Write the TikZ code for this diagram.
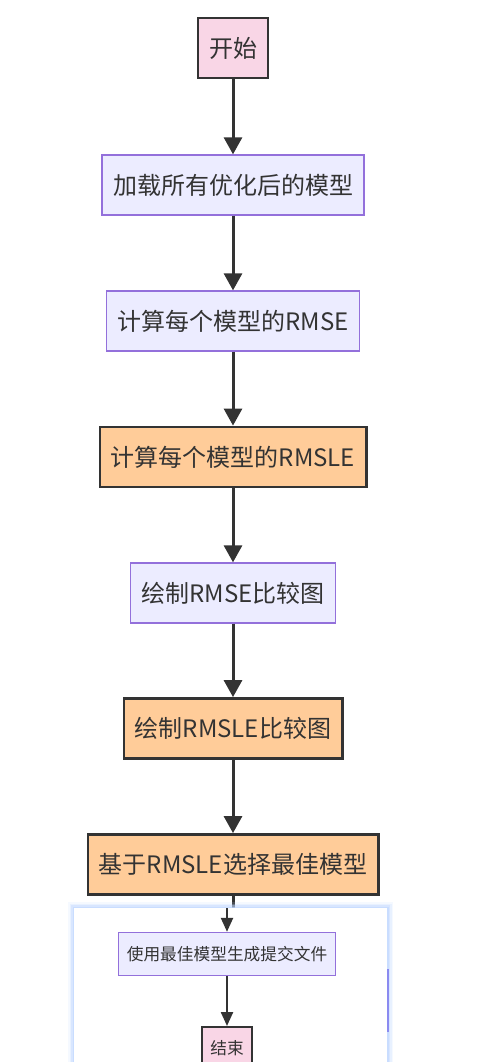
\documentclass[tikz,border=0pt]{standalone}
\usepackage{fontspec}
\setmainfont{Noto Sans CJK SC}
\usetikzlibrary{arrows.meta,positioning}
\definecolor{lav}{HTML}{ECECFF}
\definecolor{lavline}{HTML}{9370DB}
\definecolor{pinkfill}{HTML}{F9D6E6}
\definecolor{orangefill}{HTML}{FFCC99}
\definecolor{ink}{HTML}{333333}
\definecolor{glow}{HTML}{BFD7FF}
\definecolor{edgeblue}{HTML}{8A8AF0}
\tikzset{
  paso/.style={rectangle, draw=lavline, fill=lav, line width=1.3pt, text=ink,
               font=\fontsize{24}{28}\selectfont, minimum height=60pt, inner xsep=11pt},
  clave/.style={paso, draw=ink, fill=orangefill, line width=2.8pt},
  term/.style={paso, draw=ink, fill=pinkfill, line width=2.8pt},
  pasochico/.style={paso, font=\fontsize{16.7}{20}\selectfont, minimum height=43pt,
                    inner xsep=8pt, line width=1pt},
  termchico/.style={pasochico, draw=ink, fill=pinkfill, line width=2pt},
  flecha/.style={-{Triangle[length=17pt,width=18pt]}, line width=3pt, draw=ink},
  flechachica/.style={-{Triangle[length=14pt,width=12pt]}, line width=2.3pt, draw=ink}
}

\begin{document}
\begin{tikzpicture}[x=1pt,y=-1pt]
\useasboundingbox (0,0) rectangle (478,1062);

\node[term]  (inicio)  at (233,48)    {开始};
\node[paso]  (cargar)  at (233,185)   {加载所有优化后的模型};
\node[paso]  (rmse)    at (233,321)   {计算每个模型的RMSE};
\node[clave] (rmsle)   at (233,457)   {计算每个模型的RMSLE};
\node[paso]  (grafa)   at (233,593)   {绘制RMSE比较图};
\node[clave] (grafb)   at (233,728.5) {绘制RMSLE比较图};
\node[clave] (elegir)  at (233,864.5) {基于RMSLE选择最佳模型};

\draw[flecha] (inicio.south) -- (cargar.north);
\draw[flecha] (cargar.south) -- (rmse.north);
\draw[flecha] (rmse.south) -- (rmsle.north);
\draw[flecha] (rmsle.south) -- (grafa.north);
\draw[flecha] (grafa.south) -- (grafb.north);
\draw[flecha] (grafb.south) -- (elegir.north);

% panel superpuesto
\coordinate (panelsup) at (233,908);
\draw[line width=3pt, ink] (elegir.south) -- (panelsup);
\foreach \g/\o in {6/0.15, 4.5/0.25, 3/0.4, 1.5/0.6}
  \fill[glow, opacity=\o] (74-\g,908-\g) rectangle (387+\g,1090);
\fill[white] (74,908) rectangle (387,1090);
\draw[edgeblue, line width=1.6pt] (388,969) -- (388,1032);

\node[pasochico] (enviar) at (227,953.8)  {使用最佳模型生成提交文件};
\node[termchico] (fin)    at (227,1048.5) {结束};
\coordinate (entrada) at (227,908);

\draw[flechachica] (entrada) -- (enviar.north);
\draw[flechachica] (enviar.south) -- (fin.north);
\end{tikzpicture}
\end{document}
